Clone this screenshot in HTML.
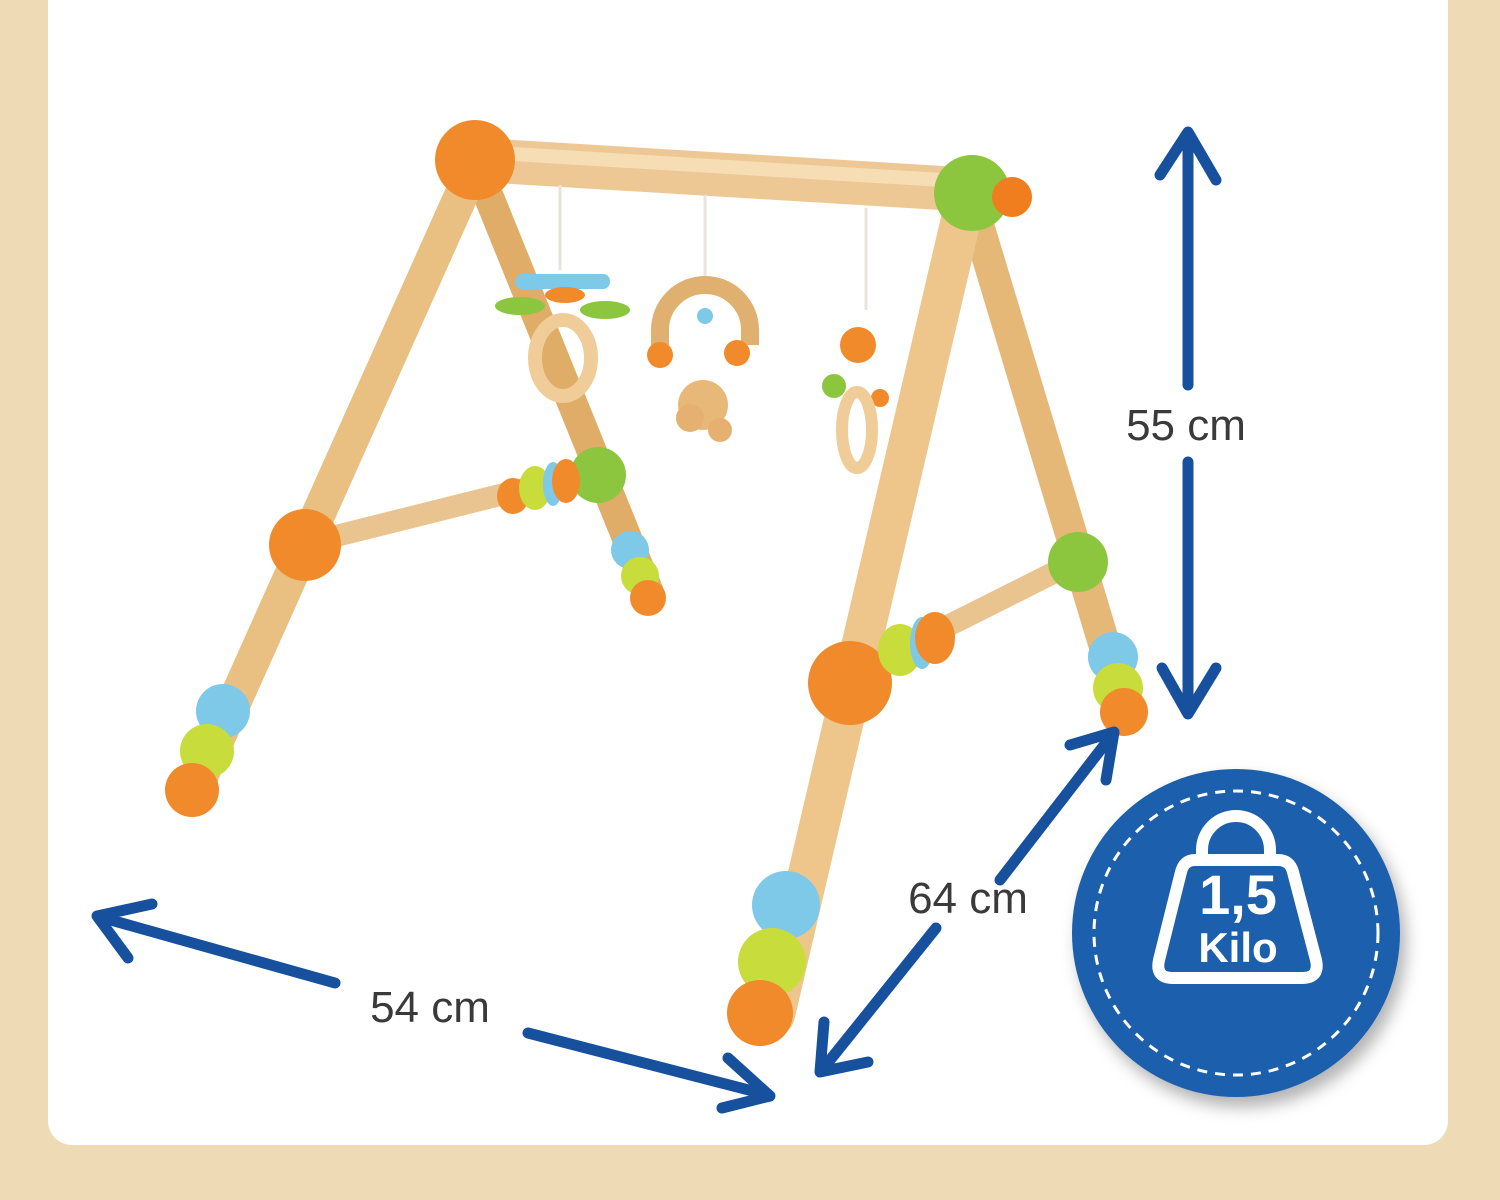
<!DOCTYPE html>
<html><head><meta charset="utf-8"><style>
html,body{margin:0;padding:0;width:1500px;height:1200px;overflow:hidden;background:#efdcb8}
</style></head><body>
<svg width="1500" height="1200" viewBox="0 0 1500 1200" xmlns="http://www.w3.org/2000/svg">
<defs>
<filter id="sh" x="-20%" y="-20%" width="140%" height="140%"><feDropShadow dx="6" dy="10" stdDeviation="8" flood-color="#000" flood-opacity="0.3"/></filter>
</defs>
<rect x="0" y="0" width="1500" height="1200" fill="#eedab4"/>
<rect x="48" y="-30" width="1400" height="1175" rx="24" fill="#ffffff"/>

<g stroke-linecap="round">
<line x1="480" y1="175" x2="650" y2="595" stroke="#e0ad68" stroke-width="30"/>
<line x1="975" y1="215" x2="1118" y2="690" stroke="#e6b878" stroke-width="32"/>
<line x1="300" y1="545" x2="600" y2="470" stroke="#eac48e" stroke-width="22"/>
<line x1="850" y1="675" x2="1075" y2="562" stroke="#eac48e" stroke-width="22"/>
<line x1="480" y1="160" x2="975" y2="190" stroke="#edc794" stroke-width="44"/>
<line x1="480" y1="152" x2="975" y2="182" stroke="#f6ddb4" stroke-width="14"/>
<line x1="468" y1="180" x2="195" y2="790" stroke="#eabf82" stroke-width="34"/>
<line x1="962" y1="215" x2="775" y2="1015" stroke="#eec68c" stroke-width="40"/>
</g>
<g stroke="#e8e4dc" stroke-width="3"><line x1="560" y1="185" x2="560" y2="270"/><line x1="705" y1="195" x2="705" y2="285"/><line x1="866" y1="208" x2="866" y2="310"/></g>
<rect x="515" y="274" width="95" height="15" rx="7" fill="#7ec8e8"/>
<ellipse cx="520" cy="306" rx="25" ry="9" fill="#8cc63f"/><ellipse cx="605" cy="310" rx="25" ry="9" fill="#8cc63f"/><ellipse cx="565" cy="295" rx="20" ry="8" fill="#f08a2a"/>
<ellipse cx="563" cy="358" rx="28" ry="38" fill="none" stroke="#efcc98" stroke-width="14"/>
<path d="M660 345 V330 a45 45 0 0 1 90 0 V345" fill="none" stroke="#e0b070" stroke-width="18"/>
<circle cx="705" cy="316" r="8" fill="#7ec8e8"/>
<circle cx="660" cy="355" r="13" fill="#f08a2a"/><circle cx="737" cy="353" r="13" fill="#f08a2a"/>
<ellipse cx="703" cy="405" rx="25" ry="25" fill="#e8b878"/><circle cx="690" cy="418" r="14" fill="#e6b070"/><circle cx="720" cy="430" r="12" fill="#e6b070"/>
<circle cx="858" cy="345" r="18" fill="#f08a2a"/><circle cx="834" cy="386" r="12" fill="#8cc63f"/><circle cx="880" cy="398" r="9" fill="#f08a2a"/>
<ellipse cx="857" cy="430" rx="15" ry="38" fill="none" stroke="#efcc98" stroke-width="12"/>
<circle cx="475" cy="160" r="40" fill="#f08a2a"/>
<circle cx="972" cy="193" r="38" fill="#8cc63f"/>
<circle cx="1012" cy="197" r="20" fill="#f07d1e"/>
<circle cx="305" cy="545" r="36" fill="#f08a2a"/>
<circle cx="598" cy="475" r="28" fill="#8cc63f"/>
<circle cx="1078" cy="562" r="30" fill="#8cc63f"/>
<circle cx="850" cy="683" r="42" fill="#f08a2a"/>
<ellipse cx="513" cy="496" rx="16" ry="18" fill="#f08a2a"/><ellipse cx="535" cy="488" rx="16" ry="22" fill="#c8dc3c"/><ellipse cx="553" cy="484" rx="10" ry="22" fill="#7ec8e8"/><ellipse cx="566" cy="481" rx="14" ry="22" fill="#f08a2a"/>
<ellipse cx="900" cy="650" rx="22" ry="26" fill="#c8dc3c"/><ellipse cx="922" cy="643" rx="12" ry="26" fill="#7ec8e8"/><ellipse cx="935" cy="638" rx="20" ry="26" fill="#f08a2a"/>
<circle cx="630" cy="550" r="19" fill="#7ec8e8"/><circle cx="640" cy="576" r="19" fill="#c8dc3c"/><circle cx="648" cy="598" r="18" fill="#f08a2a"/>
<circle cx="223" cy="711" r="27" fill="#7ec8e8"/><circle cx="207" cy="751" r="27" fill="#c8dc3c"/><circle cx="192" cy="790" r="27" fill="#f08a2a"/>
<circle cx="1113" cy="657" r="25" fill="#7ec8e8"/><circle cx="1118" cy="688" r="25" fill="#c8dc3c"/><circle cx="1124" cy="712" r="24" fill="#f08a2a"/>
<circle cx="786" cy="905" r="34" fill="#7ec8e8"/><circle cx="772" cy="962" r="34" fill="#c8dc3c"/><circle cx="760" cy="1013" r="33" fill="#f08a2a"/>

<g stroke="#17519e" stroke-width="11" fill="none" stroke-linecap="round" stroke-linejoin="round">
<line x1="1188" y1="135" x2="1188" y2="385"/><polyline points="1160,175 1188,132 1216,180"/>
<line x1="1188" y1="462" x2="1188" y2="712"/><polyline points="1162,668 1188,714 1216,668"/>
<line x1="1000" y1="880" x2="1112" y2="735"/><polyline points="1070,745 1114,732 1106,780"/>
<line x1="936" y1="928" x2="822" y2="1070"/><polyline points="824,1022 820,1072 868,1062"/>
<line x1="335" y1="983" x2="100" y2="917"/><polyline points="152,904 97,916 128,958"/>
<line x1="528" y1="1033" x2="768" y2="1095"/><polyline points="728,1058 770,1096 722,1108"/>
</g>
<g font-family="Liberation Sans, sans-serif" font-size="44" fill="#3a3a3a" text-anchor="middle">
<text x="1186" y="440">55 cm</text>
<text x="968" y="913">64 cm</text>
<text x="430" y="1022">54 cm</text>
</g>
<circle cx="1236" cy="933" r="164" fill="#1a5fad" filter="url(#sh)"/>
<circle cx="1236" cy="933" r="142" fill="none" stroke="#fff" stroke-width="3" stroke-dasharray="10 8"/>
<path d="M1202 860 V850 a34 34 0 0 1 68 0 V860" fill="none" stroke="#fff" stroke-width="12"/>
<path d="M1195 860 H1278 Q1290 860 1293 872 L1316 960 Q1320 978 1302 978 H1173 Q1155 978 1159 960 L1181 872 Q1184 860 1195 860 Z" fill="none" stroke="#fff" stroke-width="12"/>
<g font-family="Liberation Sans, sans-serif" font-weight="bold" fill="#fff" text-anchor="middle">
<text x="1238" y="914" font-size="56">1,5</text>
<text x="1238" y="962" font-size="42">Kilo</text>
</g>
</svg>
</body></html>
